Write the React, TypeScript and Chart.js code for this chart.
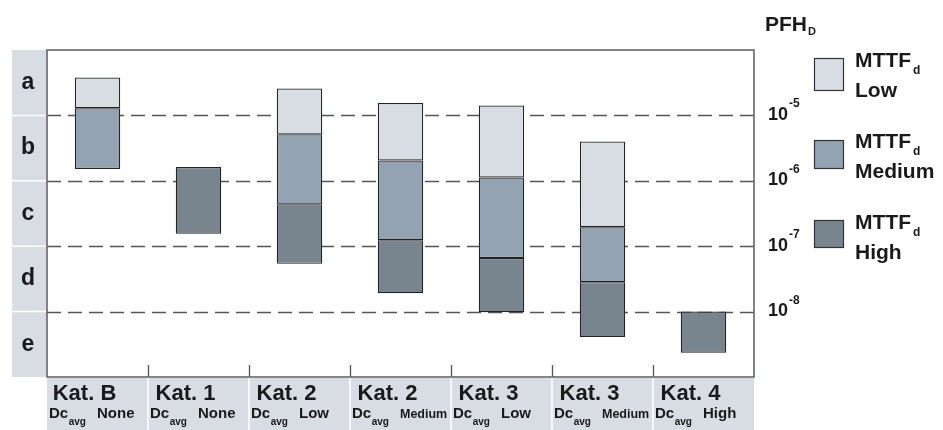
import React, { useEffect, useRef } from "react";
import { Chart, registerables } from "chart.js";

Chart.register(...registerables);

const categories = ["Kat. B", "Kat. 1", "Kat. 2", "Kat. 2", "Kat. 3", "Kat. 3", "Kat. 4"];
const dcLevels = ["None", "None", "Low", "Medium", "Low", "Medium", "High"];

// PFH_D ranges as log10 exponents [bottom, top]
const mttfLow: ([number, number] | null)[] = [[-4.89, -4.42], null, [-5.29, -4.59], [-5.69, -4.81], [-5.95, -4.85], [-6.71, -5.4], null];
const mttfMedium: ([number, number] | null)[] = [[-5.82, -4.89], null, [-6.36, -5.29], [-6.91, -5.69], [-7.18, -5.95], [-7.55, -6.71], null];
const mttfHigh: ([number, number] | null)[] = [null, [-6.81, -5.79], [-7.27, -6.36], [-7.72, -6.91], [-8.01, -7.18], [-8.39, -7.55], [-8.63, -8.0]];

const plLabels = ["a", "b", "c", "d", "e"];
const plBounds = [-4, -5, -6, -7, -8, -9];
const pfhExponents = [-5, -6, -7, -8];
const legendLevels = ["Low", "Medium", "High"];

const yMin = -9;
const yMax = -4;

const COLORS = ["#d8dde4", "#93a3b1", "#78858f"];
const PANEL = "#d8dde4";
const FONT = "'Liberation Sans', Arial, Helvetica, sans-serif";

const decorPlugin = {
  id: "decor",
  beforeDatasetsDraw(chart: any) {
    const { ctx, chartArea, scales } = chart;
    const y = scales.y;
    ctx.save();
    ctx.strokeStyle = "#555";
    ctx.lineWidth = 1.3;
    ctx.setLineDash([14, 7]);
    for (const e of pfhExponents) {
      const py = Math.round(y.getPixelForValue(e)) + 0.5;
      ctx.beginPath();
      ctx.moveTo(chartArea.left, py);
      ctx.lineTo(chartArea.right, py);
      ctx.stroke();
    }
    ctx.restore();
  },
  afterDraw(chart: any) {
    const { ctx, chartArea, scales, height } = chart;
    const x = scales.x;
    const y = scales.y;
    const { left, right, top, bottom } = chartArea;
    ctx.save();

    // left PL column
    const colL = 12;
    ctx.fillStyle = PANEL;
    ctx.fillRect(colL, top, left - colL, bottom - top);
    ctx.strokeStyle = "#ffffff";
    ctx.lineWidth = 1.5;
    for (let i = 1; i < plBounds.length - 1; i++) {
      const py = y.getPixelForValue(plBounds[i]);
      ctx.beginPath();
      ctx.moveTo(colL, py);
      ctx.lineTo(left, py);
      ctx.stroke();
    }
    ctx.fillStyle = "#1a1a1a";
    ctx.font = `bold 23px ${FONT}`;
    ctx.textAlign = "center";
    ctx.textBaseline = "middle";
    for (let i = 0; i < plLabels.length; i++) {
      const cy = (y.getPixelForValue(plBounds[i]) + y.getPixelForValue(plBounds[i + 1])) / 2;
      ctx.fillText(plLabels[i], (colL + left) / 2 - 1.5, cy);
    }

    // category boundaries
    const bounds: number[] = [left];
    for (let i = 0; i < categories.length - 1; i++) {
      bounds.push((x.getPixelForValue(i) + x.getPixelForValue(i + 1)) / 2);
    }
    bounds.push(right);

    // bottom panel
    ctx.fillStyle = PANEL;
    ctx.fillRect(left, bottom + 1, right - left, height - bottom);
    ctx.strokeStyle = "#ffffff";
    ctx.lineWidth = 1.5;
    for (let i = 1; i < bounds.length - 1; i++) {
      ctx.beginPath();
      ctx.moveTo(bounds[i], bottom);
      ctx.lineTo(bounds[i], height);
      ctx.stroke();
    }
    // tick marks at bottom of plot
    ctx.strokeStyle = "#555";
    ctx.lineWidth = 1.3;
    for (let i = 1; i < bounds.length - 1; i++) {
      const bx = Math.round(bounds[i]) + 0.5;
      ctx.beginPath();
      ctx.moveTo(bx, bottom - 12);
      ctx.lineTo(bx, bottom);
      ctx.stroke();
    }

    // category labels
    ctx.fillStyle = "#1a1a1a";
    ctx.textBaseline = "alphabetic";
    for (let i = 0; i < categories.length; i++) {
      const cx = x.getPixelForValue(i);
      const l = bounds[i];
      ctx.font = `bold 22px ${FONT}`;
      ctx.textAlign = "center";
      ctx.fillText(categories[i], cx - 13, 400);
      ctx.textAlign = "left";
      ctx.font = `bold 15px ${FONT}`;
      ctx.fillText("Dc", l + 2, 418);
      const dcW = ctx.measureText("Dc").width;
      ctx.font = `bold 10px ${FONT}`;
      ctx.fillText("avg", l + 2 + dcW + 0.5, 425);
      const lvl = dcLevels[i];
      ctx.font = lvl === "Medium" ? `bold 12.5px ${FONT}` : `bold 15px ${FONT}`;
      ctx.fillText(lvl, l + 50, 418);
    }

    // plot border
    ctx.strokeStyle = "#666";
    ctx.lineWidth = 1.6;
    ctx.strokeRect(left, top, right - left, bottom - top);

    // right PFH labels
    ctx.fillStyle = "#1a1a1a";
    for (const e of pfhExponents) {
      const py = y.getPixelForValue(e);
      ctx.font = `bold 18px ${FONT}`;
      ctx.textAlign = "left";
      ctx.textBaseline = "middle";
      ctx.fillText("10", 768, py - 0.5);
      ctx.font = `bold 12px ${FONT}`;
      ctx.textBaseline = "alphabetic";
      ctx.fillText(String(e), 789, py - 8);
    }

    // PFH_D title
    ctx.textBaseline = "alphabetic";
    ctx.font = `bold 21px ${FONT}`;
    ctx.fillText("PFH", 765, 31);
    const pW = ctx.measureText("PFH").width;
    ctx.font = `bold 11px ${FONT}`;
    ctx.fillText("D", 765 + pW + 1, 35);

    // legend
    const boxes = [[58, 33], [140, 29], [220, 28]];
    for (let i = 0; i < legendLevels.length; i++) {
      const [t, h] = boxes[i];
      ctx.fillStyle = COLORS[i];
      ctx.fillRect(814, t, 30, h);
      ctx.strokeStyle = "#333";
      ctx.lineWidth = 1.2;
      ctx.strokeRect(814.5, t + 0.5, 29, h - 1);
      ctx.fillStyle = "#1a1a1a";
      ctx.font = `bold 21px ${FONT}`;
      const base = [67, 148, 229][i];
      ctx.fillText("MTTF", 855, base);
      const mW = ctx.measureText("MTTF").width;
      ctx.font = `bold 12px ${FONT}`;
      ctx.fillText("d", 855 + mW + 2, base + 7);
      ctx.font = `bold 21px ${FONT}`;
      ctx.fillText(legendLevels[i], 855, base + 30);
    }

    ctx.restore();
  },
};

export default function App() {
  const ref = useRef<HTMLCanvasElement | null>(null);
  useEffect(() => {
    document.body.style.margin = "0";
    const canvas = ref.current;
    if (!canvas) return;
    const mk = (label: string, data: any[], color: string) => ({
      label,
      data,
      backgroundColor: color,
      borderColor: "#222",
      borderWidth: 1.2,
      borderSkipped: false,
      grouped: false,
      barPercentage: 0.45,
      categoryPercentage: 1.0,
    });
    const chart = new Chart(canvas, {
      type: "bar",
      data: {
        labels: categories,
        datasets: [
          mk("MTTFd Low", mttfLow, COLORS[0]),
          mk("MTTFd Medium", mttfMedium, COLORS[1]),
          mk("MTTFd High", mttfHigh, COLORS[2]),
        ] as any,
      },
      options: {
        responsive: false,
        animation: false,
        layout: { padding: { left: 47, top: 50, right: 189, bottom: 53 } },
        plugins: { legend: { display: false }, tooltip: { enabled: false } },
        scales: {
          x: { display: false },
          y: { display: false, min: yMin, max: yMax },
        },
      },
      plugins: [decorPlugin],
    });
    return () => chart.destroy();
  }, []);
  return (
    <div style={{ position: "fixed", left: 0, top: 0, width: 943, height: 430, background: "#fff" }}>
      <canvas ref={ref} width={943} height={430} style={{ display: "block" }} />
    </div>
  );
}
